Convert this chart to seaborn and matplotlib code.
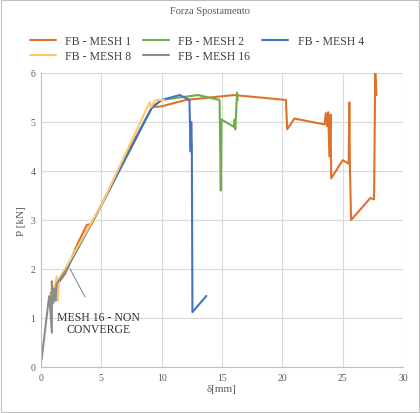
import matplotlib
matplotlib.use("Agg")
import matplotlib.pyplot as plt
import seaborn as sns
import pandas as pd

mesh1_x = [0.8, 1.2, 2.0, 3.0, 3.8, 4.2, 5.0, 7.0, 9.2, 10.0, 12.0, 16.0, 20.3, 20.4, 21.0, 23.5, 23.6, 23.7, 23.8, 23.9, 24.0, 24.05, 25.0, 25.5, 25.55, 25.6, 25.7, 27.3, 27.6, 27.7, 27.8]
mesh1_y = [1.5, 1.65, 1.9, 2.5, 2.9, 2.92, 3.3, 4.3, 5.3, 5.32, 5.45, 5.55, 5.45, 4.85, 5.07, 4.95, 5.18, 4.92, 5.2, 4.3, 5.15, 3.85, 4.22, 4.15, 5.4, 4.1, 3.0, 3.45, 3.42, 6.0, 5.55]
mesh2_x = [0.9, 2.0, 5.0, 9.2, 10.0, 13.0, 14.8, 14.9, 14.95, 16.0, 16.05, 16.1, 16.25, 16.3]
mesh2_y = [1.5, 1.95, 3.3, 5.3, 5.45, 5.55, 5.45, 3.6, 5.05, 4.9, 5.05, 4.85, 5.6, 5.45]
mesh4_x = [0.9, 2.0, 5.0, 9.2, 10.0, 11.5, 12.3, 12.4, 12.45, 12.5, 12.55, 13.7]
mesh4_y = [1.5, 1.95, 3.3, 5.3, 5.45, 5.55, 5.45, 4.4, 5.0, 4.5, 1.12, 1.45]
mesh8_x = [0.8, 1.0, 1.3, 1.4, 1.5, 2.0, 5.0, 9.0, 9.1, 9.5, 10.2]
mesh8_y = [1.45, 1.5, 1.85, 1.35, 1.8, 2.0, 3.3, 5.4, 5.3, 5.45, 5.45]
mesh16_x = [0.05, 0.6, 0.7, 0.9, 0.9, 1.0, 1.1, 1.2, 1.3, 2.3]
mesh16_y = [0.15, 1.3, 1.45, 0.7, 1.75, 1.3, 1.6, 1.35, 1.7, 2.05]

series = [
    ("FB - MESH 1", mesh1_x, mesh1_y, "#E0712C"),
    ("FB - MESH 2", mesh2_x, mesh2_y, "#6FAD47"),
    ("FB - MESH 4", mesh4_x, mesh4_y, "#4472C4"),
    ("FB - MESH 8", mesh8_x, mesh8_y, "#FFC96B"),
    ("FB - MESH 16", mesh16_x, mesh16_y, "#8C8C8C"),
]

sns.set_style("white")
plt.rcParams['font.family'] = ['Liberation Serif', 'DejaVu Serif']

fig = plt.figure(figsize=(4.2, 4.14), dpi=100)
ax = fig.add_axes([41/420, 46/414, 362/420, 294/414])

for name, xs, ys, col in series:
    df = pd.DataFrame({"x": xs, "y": ys})
    sns.lineplot(data=df, x="x", y="y", sort=False, estimator=None, color=col,
                 linewidth=1.5, label=name, ax=ax)

ax.set_xlim(0, 30)
ax.set_ylim(0, 6)
ax.set_xticks(range(0, 31, 5))
ax.set_yticks(range(0, 7))
ax.grid(True, color="#D9D9D9", linewidth=0.8)
for s in ax.spines.values():
    s.set_visible(False)
ax.spines['left'].set_visible(True)
ax.spines['bottom'].set_visible(True)
ax.spines['left'].set_color("#BFBFBF")
ax.spines['bottom'].set_color("#BFBFBF")
ax.tick_params(labelsize=7, colors="#595959", length=0, pad=4)
ax.set_xlabel("δ[mm]", fontsize=8, color="#595959", labelpad=2)
ax.set_ylabel("P [kN]", fontsize=8, color="#595959", labelpad=3)

ax.annotate("MESH 16 - NON\nCONVERGE", xy=(2.3, 2.05), xytext=(4.8, 0.9),
            fontsize=8.5, ha="center", va="center", color="#333333",
            linespacing=0.95,
            arrowprops=dict(arrowstyle="-", color="#7F7F7F", lw=0.7,
                            shrinkA=9))

# row-major legend order with 3 columns
handles, labels = ax.get_legend_handles_labels()
order = [0, 3, 1, 4, 2]
ax.legend([handles[i] for i in order], [labels[i] for i in order],
          loc="lower center", bbox_to_anchor=(0.43, 1.0), ncol=3, frameon=False,
          fontsize=8.5, handlelength=2.2, columnspacing=1.0, labelspacing=0.3,
          labelcolor="#404040")
fig.text(0.5, 0.965, "Forza Spostamento", ha="center", fontsize=7.5, color="#595959")
fig.patches.append(plt.Rectangle((0.002, 0.002), 0.996, 0.996, transform=fig.transFigure,
                                 fill=False, edgecolor="#BFBFBF", lw=0.8))
fig.savefig("out.png", dpi=100)
